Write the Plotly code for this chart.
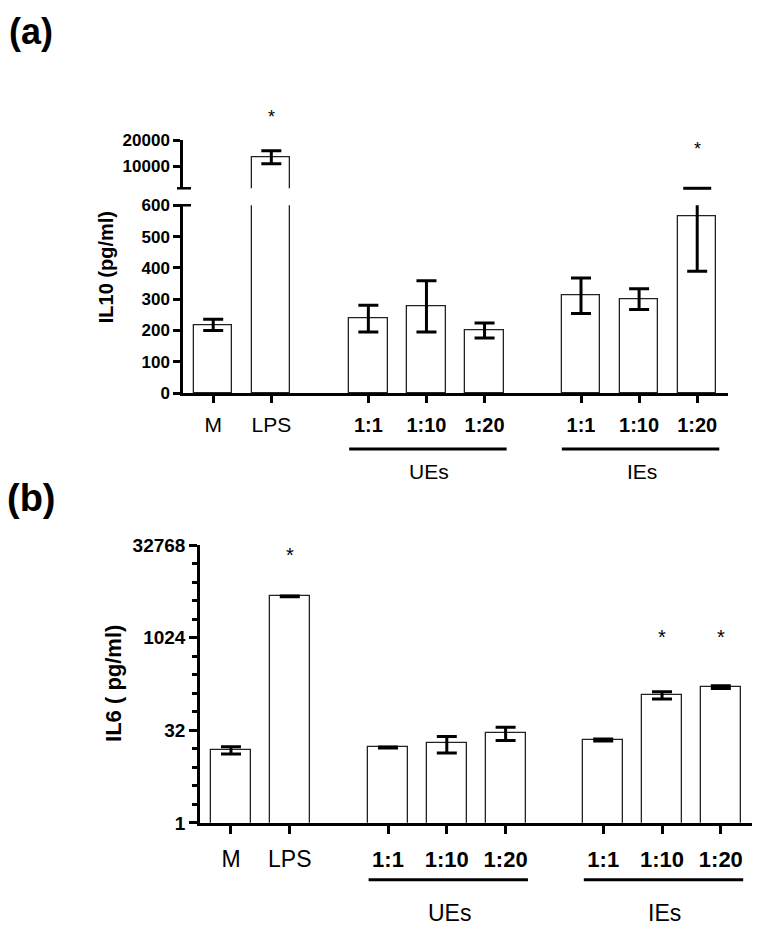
import math
import plotly.graph_objects as go

# --- data -------------------------------------------------------------
groups = ['M', 'LPS', '1:1', '1:10', '1:20', '1:1', '1:10', '1:20']
x_pos = [0, 1, 2.67, 3.67, 4.67, 6.33, 7.33, 8.33]
bold_tick = [False, False, True, True, True, True, True, True]

il10_mean = [218, 13500, 238, 277, 200, 311, 300, 565]
il10_err = [18, 2500, 43, 82, 24, 57, 33, 176]
il10_sig = [False, True, False, False, False, False, False, True]

il6_mean = [15.2, 4800, 16.8, 19.5, 28.9, 22.3, 119, 161]
il6_err = [2.1, 60, 0.3, 5.8, 7.0, 0.8, 16, 8]
il6_sig = [False, True, False, False, False, False, True, True]

ue_idx = [2, 3, 4]
ie_idx = [5, 6, 7]

lower_ticks = [0, 100, 200, 300, 400, 500, 600]
upper_ticks = [10000, 20000]
il6_ticks = [1, 32, 1024, 32768]

# --- helpers ------------------------------------------------------------
# positions below are given in pixels of the final picture; the page
# offsets the figure a little, so map them back into paper coordinates
PAD_X = 8
Y_OFF, Y_SCALE = 17.6, 0.978
W, H = 760 - 2 * PAD_X, 927
FONT = 'Liberation Sans, Arial, sans-serif'


def fx(px):
    return min(1, max(0, (px - PAD_X) / W))


def fy(px):
    return min(1, max(0, 1 - (px - Y_OFF) / Y_SCALE / H))


def tick_text(size_bold):
    out = []
    for g, b in zip(groups, bold_tick):
        if b:
            out.append(f'<span style="font-size:{size_bold}px;font-weight:bold">{g}</span>')
        else:
            out.append(g)
    return out


bar_style = dict(marker=dict(color='white', line=dict(color='#222', width=1.3)),
                 showlegend=False, hoverinfo='skip')
err_style = dict(type='data', color='black', thickness=3, width=10)

upper_min = 1538

fig = go.Figure()

# panel (a) lower part
fig.add_trace(go.Bar(x=x_pos, y=il10_mean, width=0.66, xaxis='x', yaxis='y',
                     error_y=dict(array=il10_err, **err_style), **bar_style))
# panel (a) upper part
fig.add_trace(go.Bar(x=x_pos, y=il10_mean, width=0.66, xaxis='x', yaxis='y2',
                     error_y=dict(array=il10_err, **err_style), **bar_style))
# caps that fall into the axis break are drawn at the bottom of the upper part
brk_x = [x for x, m, e in zip(x_pos, il10_mean, il10_err) if 600 < m + e < upper_min]
fig.add_trace(go.Scatter(x=brk_x, y=[upper_min] * len(brk_x), xaxis='x', yaxis='y2',
                         mode='markers', cliponaxis=False, showlegend=False, hoverinfo='skip',
                         marker=dict(symbol='line-ew', size=20, line=dict(color='black', width=3))))
# panel (b)
fig.add_trace(go.Bar(x=x_pos, y=il6_mean, width=0.68, xaxis='x2', yaxis='y3',
                     error_y=dict(array=il6_err, **err_style), **bar_style))

axis_common = dict(showline=True, linecolor='black', linewidth=2.5, ticks='outside',
                   tickcolor='black', tickwidth=2.5, showgrid=False, zeroline=False)

fig.update_layout(
    width=W, height=H,
    margin=dict(l=0, r=0, t=0, b=0),
    plot_bgcolor='white', paper_bgcolor='white',
    bargap=0,
    xaxis=dict(domain=[fx(183), fx(728)], range=[-0.52, 8.86], anchor='y',
               tickvals=x_pos, ticktext=tick_text(20), ticklen=7,
               ticklabelstandoff=4,
               tickfont=dict(family=FONT, size=21, color='black'), **axis_common),
    yaxis=dict(domain=[fy(393), fy(205)], range=[0, 600], anchor='x',
               tickvals=lower_ticks, ticklen=7,
               tickfont=dict(family=FONT, size=17, color='black', weight='bold'),
               **axis_common),
    yaxis2=dict(domain=[fy(188), fy(140)], range=[upper_min, 20000], anchor='x',
                tickvals=upper_ticks, ticktext=[str(v) for v in upper_ticks], ticklen=7,
                tickfont=dict(family=FONT, size=17, color='black', weight='bold'),
                **axis_common),
    xaxis2=dict(domain=[fx(200), fx(752)], range=[-0.527, 8.86], anchor='y3',
                tickvals=x_pos, ticktext=tick_text(22), ticklen=8,
                ticklabelstandoff=6,
                tickfont=dict(family=FONT, size=23, color='black'), **axis_common),
    yaxis3=dict(domain=[fy(823), fy(545)], type='log', range=[0, math.log10(32768)],
                anchor='x2', tickvals=il6_ticks, ticktext=[str(v) for v in il6_ticks],
                ticklen=8,
                minor=dict(tickvals=[2 ** k for k in range(1, 15) if 2 ** k not in il6_ticks],
                           ticks='outside', ticklen=5, tickwidth=2.5, tickcolor='black'),
                tickfont=dict(family=FONT, size=19, color='black', weight='bold'),
                **axis_common),
)

# axis break marks
for yy in (188, 205):
    fig.add_shape(type='line', xref='paper', yref='paper', x0=fx(177), x1=fx(191),
                  y0=fy(yy), y1=fy(yy), line=dict(color='black', width=2.5))

annotations = []


def note(text, x, y, size, xref='paper', bold=False, angle=0):
    annotations.append(dict(text=text, x=x, y=y, xref=xref, yref='paper', showarrow=False,
                            textangle=angle, xanchor='center', yanchor='middle',
                            font=dict(family=FONT, size=size, color='black',
                                      weight='bold' if bold else 'normal')))


# panel letters and axis titles
note('(a)', fx(31), fy(31), 36, bold=True)
note('(b)', fx(31), fy(498), 38, bold=True)
note('IL10 (pg/ml)', fx(106), fy(267), 20, bold=True, angle=-90)
note('IL6 ( pg/ml)', fx(114), fy(684), 22, bold=True, angle=-90)

# significance stars
star_a = {1: 117, 7: 149}
for i, s in enumerate(il10_sig):
    if s:
        note('*', x_pos[i], fy(star_a[i]), 18, xref='x')
star_b = {1: 555, 6: 637, 7: 637}
for i, s in enumerate(il6_sig):
    if s:
        note('*', x_pos[i], fy(star_b[i]), 20, xref='x2')

# group brackets
for xref, line_y, text_y, size in (('x', 449, 471, 21), ('x2', 880, 913, 23)):
    for idx, name in ((ue_idx, 'UEs'), (ie_idx, 'IEs')):
        xs = [x_pos[i] for i in idx]
        fig.add_shape(type='line', xref=xref, yref='paper', x0=xs[0] - 0.33, x1=xs[-1] + 0.38,
                      y0=fy(line_y), y1=fy(line_y), line=dict(color='black', width=3))
        note(name, sum(xs) / len(xs) + 0.05, fy(text_y), size, xref=xref)

fig.update_layout(annotations=annotations)

fig.write_html("out.html")
